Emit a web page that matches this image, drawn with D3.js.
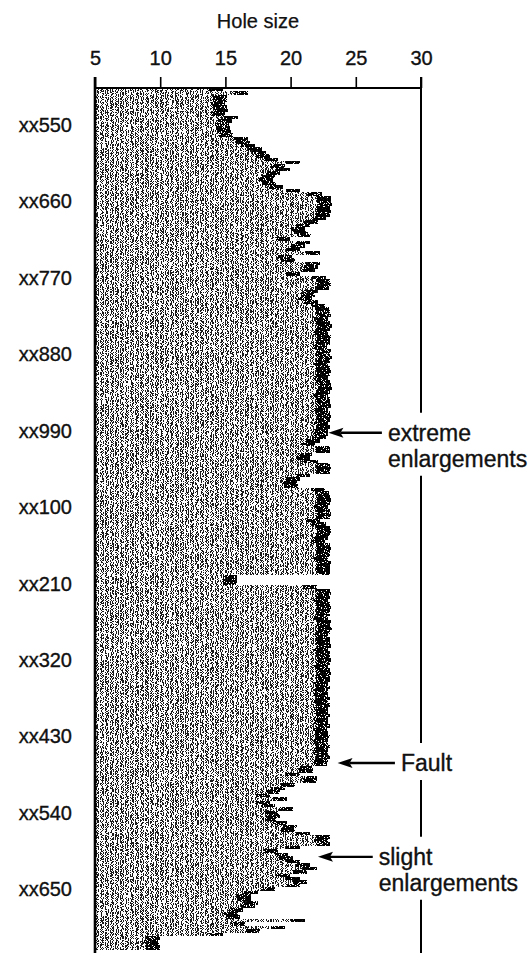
<!DOCTYPE html>
<html>
<head>
<meta charset="utf-8">
<script src="https://cdn.jsdelivr.net/npm/d3@7"></script>
<style>
  body { margin: 0; background: #fff; }
  svg { display: block; font-family: "Liberation Sans", Arial, sans-serif; }
  .lbl { fill: #111; stroke: #111; stroke-width: 0.35px; }
</style>
</head>
<body>
<svg id="chart" width="532" height="953"></svg>
<script>
// caliper log: hole size read every 5 depth units, starting at the top of the log
var depthTop = 497,
  depthStep = 5;

var holeSize = [
  14.8, 16.7, 15.1, 15.1, 15.0, 15.1, 15.2, 15.0, 16.0, 15.5,
  15.3, 15.35, 15.4, 15.6, 16.7, 16.9, 17.3, 17.8, 18.1, 18.4,
  19.0, 20.7, 19.6, 19.95, 19.2, 18.8, 18.65, 18.9, 19.4, 20.7,
  22.4, 23.1, 23.1, 23.2, 23.0, 23.1, 23.0, 22.7, 22.1, 21.5,
  21.1, 21.3, 21.6, 19.95, 21.5, 21.1, 20.7, 22.25, 20.1, 20.3,
  22.25, 22.1, 21.9, 20.7, 22.7, 23.0, 23.1, 22.95, 22.1, 21.9,
  21.65, 22.1, 22.6, 22.95, 23.0, 23.1, 22.9, 23.0, 23.2, 23.0,
  22.9, 23.1, 23.0, 23.0, 22.8, 23.1, 23.0, 23.2, 23.0, 22.9,
  23.0, 23.1, 23.0, 22.9, 23.0, 23.1, 23.2, 23.0, 22.9, 23.0,
  23.0, 23.1, 22.9, 23.0, 23.1, 23.0, 22.9, 23.0, 22.9, 22.85,
  22.7, 22.25, 21.9, 23.0, 23.0, 21.65, 21.5, 22.1, 23.0, 23.1,
  23.0, 21.5, 20.7, 20.5, 20.55, 22.6, 22.95, 23.0, 23.1, 23.0,
  22.9, 23.0, 23.1, 23.0, 22.25, 22.7, 23.0, 23.1, 23.0, 22.9,
  22.6, 23.0, 23.1, 23.0, 23.0, 22.9, 23.1, 23.0, 23.0, 23.0,
  15.9, 15.9, 15.9, 22.0, 23.0, 23.1, 23.0, 22.9, 23.0, 23.1,
  23.0, 23.0, 22.9, 23.1, 23.0, 23.2, 23.0, 22.9, 23.0, 23.0,
  23.1, 22.9, 23.0, 23.0, 23.1, 23.0, 22.9, 23.0, 23.1, 23.0,
  23.0, 22.9, 23.0, 22.9, 22.9, 23.0, 22.9, 23.0, 22.9, 22.9,
  23.0, 22.9, 22.9, 23.0, 22.8, 22.9, 23.0, 22.9, 22.9, 23.0,
  22.9, 22.9, 23.0, 22.9, 22.8, 21.7, 21.7, 20.7, 22.0, 22.0,
  20.3, 19.6, 19.2, 18.4, 19.7, 18.4, 18.8, 20.2, 19.0, 19.2,
  18.9, 19.7, 20.5, 20.3, 21.5, 23.0, 22.85, 23.0, 20.7, 19.0,
  19.8, 20.2, 20.7, 21.5, 22.0, 21.25, 19.95, 20.7, 21.25, 20.7,
  18.8, 17.5, 17.0, 17.0, 17.5, 17.3, 16.35, 16.0, 16.1, 21.1,
  16.5, 19.6, 17.65, 14.8, 10.0, 9.8, 10.0, 10.0
];

var sizeTicks = [5, 10, 15, 20, 25, 30];
var depthTicks = [550, 660, 770, 880, 990, 1100, 1210, 1320, 1430, 1540, 1650];

var notes = [
  { lines: ["extreme", "enlargements"], depth: 993, tip: 22.9, tail: 27.0 },
  { lines: ["Fault"], depth: 1468, tip: 23.6, tail: 28.0 },
  { lines: ["slight", "enlargements"], depth: 1603, tip: 22.1, tail: 26.3 }
];

var svg = d3.select("#chart"),
  W = 532,
  H = 953,
  plotTop = 88,
  x = d3.scaleLinear().domain([5, 30]).range([95, 421]),
  y = d3.scaleLinear().domain([depthTop, depthTop + holeSize.length * depthStep]).range([plotTop, 950]),
  lineGap = 26,
  rimW = 14;

var rows = holeSize.map(function (v, i) {
  return { depth: depthTop + i * depthStep, size: v };
});

// grainy print texture: thresholded noise used as a mask
var defs = svg.append("defs");
function grain(id, freq, cover, seed) {
  var n = 40, table = [];
  for (var k = 0; k < n; k++) table.push(k < Math.round(cover * n) ? 1 : 0);
  var f = defs.append("filter")
    .attr("id", id)
    .attr("filterUnits", "userSpaceOnUse")
    .attr("x", 0).attr("y", 0).attr("width", W).attr("height", H)
    .attr("color-interpolation-filters", "sRGB");
  f.append("feTurbulence")
    .attr("type", "fractalNoise")
    .attr("baseFrequency", freq)
    .attr("numOctaves", 3)
    .attr("seed", seed)
    .attr("result", "noise");
  f.append("feColorMatrix")
    .attr("in", "noise")
    .attr("type", "matrix")
    .attr("values", "0 0 0 0 0  0 0 0 0 0  0 0 0 0 0  1 0 0 0 0")
    .attr("result", "alpha");
  f.append("feComponentTransfer")
    .attr("in", "alpha")
    .attr("result", "mask")
    .append("feFuncA")
    .attr("type", "discrete")
    .attr("tableValues", table.join(" "));
  f.append("feComposite")
    .attr("in", "SourceGraphic")
    .attr("in2", "mask")
    .attr("operator", "in");
}
grain("grain", "0.8 1.0", 0.5, 4);
grain("grainDark", "0.9 1.1", 0.6, 9);

// the log fill
svg.append("g")
  .attr("filter", "url(#grain)")
  .selectAll("rect")
  .data(rows)
  .enter().append("rect")
  .attr("x", x(5))
  .attr("y", function (d) { return y(d.depth); })
  .attr("width", function (d) { return x(d.size) - x(5); })
  .attr("height", function (d) { return y(d.depth + depthStep) - y(d.depth); })
  .attr("shape-rendering", "crispEdges")
  .style("fill", "#1a1a1a");

// darker rim along the edge of the trace
svg.append("g")
  .attr("filter", "url(#grainDark)")
  .selectAll("rect")
  .data(rows)
  .enter().append("rect")
  .attr("x", function (d) { return Math.max(x(5), x(d.size) - rimW); })
  .attr("y", function (d) { return y(d.depth); })
  .attr("width", function (d) { return Math.min(rimW, x(d.size) - x(5)); })
  .attr("height", function (d) { return y(d.depth + depthStep) - y(d.depth); })
  .attr("shape-rendering", "crispEdges")
  .style("fill", "#000");

// top axis
var xAxis = d3.axisTop(x)
  .tickValues(sizeTicks)
  .tickSize(11)
  .tickPadding(12)
  .tickFormat(d3.format("d"));

var gx = svg.append("g")
  .attr("transform", "translate(0," + plotTop + ")")
  .call(xAxis);
gx.select(".domain").remove();
gx.selectAll(".tick line").attr("stroke", "#000").attr("stroke-width", 1.6);
gx.selectAll(".tick text")
  .attr("class", "lbl")
  .style("font-size", "20px");

svg.append("text")
  .attr("class", "lbl")
  .attr("x", (x(5) + x(30)) / 2)
  .attr("y", 28)
  .style("text-anchor", "middle")
  .style("font-size", "20px")
  .style("stroke-width", "0.25px")
  .text("Hole size");

// depth labels
var yAxis = d3.axisLeft(y)
  .tickValues(depthTicks)
  .tickSize(0)
  .tickPadding(23)
  .tickFormat(function (d) { return "xx" + d3.format("03d")(d % 1000); });

var gy = svg.append("g")
  .attr("transform", "translate(" + x(5) + ",0)")
  .call(yAxis);
gy.select(".domain").remove();
gy.selectAll(".tick text")
  .attr("class", "lbl")
  .style("font-size", "20px");

// frame
svg.append("line")
  .attr("x1", x(5)).attr("x2", x(30))
  .attr("y1", plotTop).attr("y2", plotTop)
  .attr("stroke", "#000").attr("stroke-width", 2.2);

svg.append("line")
  .attr("x1", x(5)).attr("x2", x(5))
  .attr("y1", plotTop - 11).attr("y2", H)
  .attr("stroke", "#000").attr("stroke-width", 2.6);

// right edge line, broken where the notes sit
var segs = [], from = plotTop - 11;
notes.forEach(function (n) {
  var y0 = y(n.depth);
  segs.push([from, y0 - 20]);
  from = y0 + (n.lines.length - 1) * lineGap + 17;
});
segs.push([from, H]);

svg.selectAll(".rim")
  .data(segs)
  .enter().append("line")
  .attr("class", "rim")
  .attr("x1", x(30)).attr("x2", x(30))
  .attr("y1", function (d) { return d[0]; })
  .attr("y2", function (d) { return d[1]; })
  .attr("stroke", "#000")
  .attr("stroke-width", 2);

// notes with arrows
notes.forEach(function (n) {
  var yy = y(n.depth),
    xt = x(n.tip),
    xe = x(n.tail);

  svg.append("line")
    .attr("x1", xt + 12).attr("x2", xe)
    .attr("y1", yy).attr("y2", yy)
    .attr("stroke", "#000")
    .attr("stroke-width", 2.4);

  svg.append("path")
    .attr("d", "M" + xt + "," + yy + "L" + (xt + 15) + "," + (yy - 5) +
      "L" + (xt + 12) + "," + yy + "L" + (xt + 15) + "," + (yy + 5) + "Z")
    .style("fill", "#000");

  n.lines.forEach(function (t, i) {
    svg.append("text")
      .attr("class", "lbl")
      .attr("x", xe + 6)
      .attr("y", yy + i * lineGap)
      .attr("dy", "0.35em")
      .style("font-size", "23px")
      .text(t);
  });
});
</script>
</body>
</html>
